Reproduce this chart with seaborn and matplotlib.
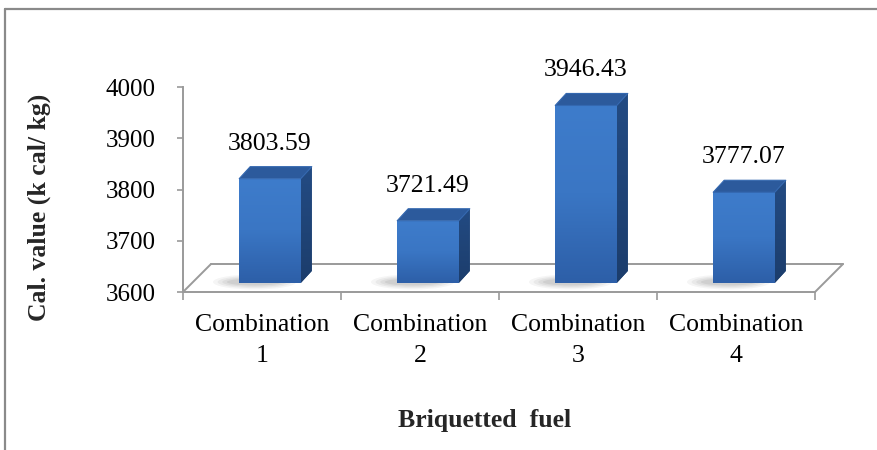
import numpy as np
import pandas as pd
import matplotlib
matplotlib.use("Agg")
import matplotlib.pyplot as plt
from matplotlib.patches import Polygon, Ellipse
from matplotlib.transforms import ScaledTranslation
from matplotlib.colors import LinearSegmentedColormap
import seaborn as sns

# Calorific value of the briquetted fuel combinations
categories = ["Combination\n1", "Combination\n2", "Combination\n3", "Combination\n4"]
cal_values = [3803.59, 3721.49, 3946.43, 3777.07]
y_ticks = [3600, 3700, 3800, 3900, 4000]

Y_BASE = 3600
DPI = 100
W_PX, H_PX = 877, 450

sns.set_theme(style="white")
plt.rcParams["font.family"] = ["Liberation Serif", "DejaVu Serif"]

fig = plt.figure(figsize=(W_PX / DPI, H_PX / DPI), dpi=DPI)
fig.patch.set_facecolor("white")
ax = fig.add_axes([183 / W_PX, 158 / H_PX, 632 / W_PX, 205 / H_PX])

df = pd.DataFrame({"fuel": categories, "cal": cal_values})
sns.barplot(data=df, x="fuel", y="cal", color="#3A74C2", width=0.39,
            ax=ax, saturation=1, edgecolor="none", linewidth=0)

ax.set_xlim(-0.5, 3.5)
ax.set_ylim(Y_BASE, 4000)
ax.set_facecolor("none")

GRID = "#9a9a9a"

def px(dx, dy):
    return ScaledTranslation(dx / DPI, dy / DPI, fig.dpi_scale_trans)

# data units per pixel
p0 = ax.transData.transform((0, Y_BASE))
p1 = ax.transData.transform((1, Y_BASE + 100))
ux = 1.0 / (p1[0] - p0[0])
uy = 100.0 / (p1[1] - p0[1])

# bars stand a little behind the front edge of the floor
SHIFT_X, SHIFT_Y = 8, 9
bar_tr = ax.transData + px(SHIFT_X, SHIFT_Y)
depth_dx, depth_dy = 11 * ux, 12 * uy

front_cmap = LinearSegmentedColormap.from_list(
    "front", ["#2D5FA8", "#3A76C4", "#3E7CCB"])
side_cmap = LinearSegmentedColormap.from_list(
    "side", ["#1C3D6C", "#234B83"])

for patch, val in zip(ax.patches, cal_values):
    x0 = patch.get_x()
    w = patch.get_width()
    patch.set_y(Y_BASE)
    patch.set_height(val - Y_BASE)
    patch.set_transform(bar_tr)
    patch.set_zorder(3)
    x1 = x0 + w

    # soft shadow on the floor
    for k, a in enumerate([0.06, 0.07, 0.08, 0.10]):
        sh = Ellipse((x0 + w * 0.25, Y_BASE + 1 * uy), w * (1.35 - 0.15 * k),
                     15 * uy * (1 - 0.18 * k), facecolor="#555555",
                     edgecolor="none", alpha=a, transform=bar_tr, zorder=2)
        ax.add_patch(sh)

    # front face shading
    grad = np.linspace(0, 1, 64).reshape(-1, 1)
    img = ax.imshow(grad, cmap=front_cmap, aspect="auto", origin="lower",
                    extent=(x0, x1, Y_BASE, val), transform=bar_tr, zorder=3.1,
                    interpolation="bicubic")
    img.set_clip_path(patch)

    # right side face
    side = Polygon([(x1, Y_BASE), (x1 + depth_dx, Y_BASE + depth_dy),
                    (x1 + depth_dx, val + depth_dy), (x1, val)],
                   closed=True, facecolor="#214779", edgecolor="none",
                   transform=bar_tr, zorder=3)
    ax.add_patch(side)
    simg = ax.imshow(grad, cmap=side_cmap, aspect="auto", origin="lower",
                     extent=(x1, x1 + depth_dx, Y_BASE, val + depth_dy),
                     transform=bar_tr, zorder=3.1, interpolation="bicubic")
    simg.set_clip_path(side)

    # top face
    top = Polygon([(x0, val), (x1, val), (x1 + depth_dx, val + depth_dy),
                   (x0 + depth_dx, val + depth_dy)],
                  closed=True, facecolor="#2C5A9C", edgecolor="#3468B0",
                  linewidth=0.8, joinstyle="round", transform=bar_tr, zorder=3.2)
    ax.add_patch(top)

    # value label above the bar
    ax.annotate(f"{val:.2f}", xy=(x0 + w / 2 + SHIFT_X * ux, val),
                xycoords="data",
                xytext=(0, 44 * 72 / DPI), textcoords="offset points",
                ha="center", va="center", fontsize=18.5, color="black",
                zorder=5, annotation_clip=False)

ax.set_xlim(-0.5, 3.5)
ax.set_ylim(Y_BASE, 4000)

# floor of the plot
ax.plot([0, 1], [0, 0], transform=ax.transAxes, color=GRID, lw=1.4,
        clip_on=False, zorder=1)
ax.plot([0, 1], [0, 0], transform=ax.transAxes + px(28, 28), color=GRID,
        lw=1.4, clip_on=False, zorder=1)
for xa in (0, 1):
    start = ax.transAxes.transform((xa, 0))
    end = start + np.array([28, 28])
    ax.plot([start[0], end[0]], [start[1], end[1]], transform=None,
            color=GRID, lw=1.4, clip_on=False, zorder=1)

# axes styling
for s in ["top", "right", "bottom"]:
    ax.spines[s].set_visible(False)
ax.spines["left"].set_color(GRID)
ax.spines["left"].set_linewidth(1.4)

ax.set_yticks(y_ticks)
ax.set_yticklabels([str(t) for t in y_ticks])
ax.tick_params(axis="y", direction="out", length=6 * 72 / DPI, width=1.2,
               color=GRID, pad=21 * 72 / DPI, labelsize=18, labelcolor="black",
               left=True)

ax.set_xticks(range(len(categories)))
ax.set_xticklabels(categories)
ax.set_xticks(np.arange(-0.5, 4.0, 1.0), minor=True)
ax.tick_params(axis="x", which="major", length=0, pad=16,
               labelsize=18.5, labelcolor="black")
ax.tick_params(axis="x", which="minor", direction="out", length=8 * 72 / DPI,
               width=1.2, color=GRID, bottom=True)
for lbl in ax.get_xticklabels():
    lbl.set_linespacing(1.5)

ax.set_xlabel("")
ax.set_ylabel("")

fig.text(485 / W_PX, 1 - 421 / H_PX, "Briquetted  fuel", ha="center",
         va="center", fontsize=18.5, fontweight="bold")
fig.text(39 / W_PX, 1 - 207 / H_PX, "Cal. value (k cal/ kg)", ha="center",
         va="center", rotation=90, fontsize=18.5, fontweight="bold")

# chart area border
BORDER = "#8a8a8a"
fig.add_artist(plt.Line2D([5 / W_PX, 1], [1 - 9 / H_PX, 1 - 9 / H_PX],
                          color=BORDER, lw=1.6))
fig.add_artist(plt.Line2D([5 / W_PX, 5 / W_PX], [0, 1 - 9 / H_PX],
                          color=BORDER, lw=1.6))

fig.savefig("out.png", dpi=DPI, facecolor="white")
